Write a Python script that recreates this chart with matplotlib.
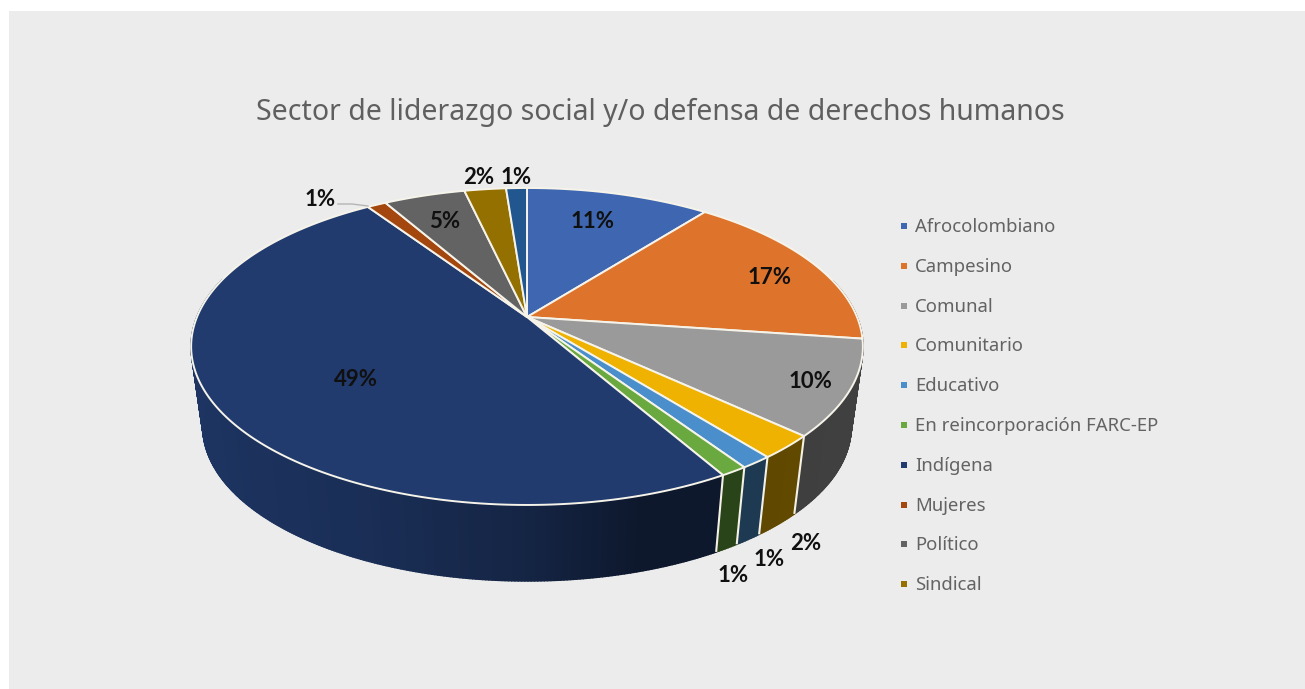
import numpy as np
import matplotlib
matplotlib.use('Agg')
import matplotlib.pyplot as plt
from matplotlib.collections import PolyCollection
from matplotlib.colors import to_rgb

categories = ['Afrocolombiano', 'Campesino', 'Comunal', 'Comunitario', 'Educativo',
              'En reincorporación FARC-EP', 'Indígena', 'Mujeres', 'Político', 'Sindical']
# the last slice has no legend entry
values = [10.6, 16.6, 9.7, 2.4, 1.3, 1.1, 48.9, 1.1, 4.7, 2.4, 1.2]
colors = ['#3F66B0', '#DE732B', '#9A9A9A', '#EFB200', '#4A8FCB', '#69A93F',
          '#213B6E', '#A3470F', '#636363', '#947000', '#22568F']
label_pos = [(593, 221), (770, 277), (810, 382), (806, 543), (769, 560), (733, 576),
             (356, 379), (320, 200), (445, 222), (479, 178), (516, 177)]

title = 'Sector de liderazgo social y/o defensa de derechos humanos'


def project(theta, apex_y, sx=1, sy=1):
    # perspective view of the disc, theta runs clockwise from the top
    u, v = np.sin(theta), np.cos(theta)
    d = 1 + 0.186 * v
    return 527 + sx * 330 * u / d, apex_y - sy * 153 * v / d


def wall_points(theta):
    return project(theta, 398, 0.965, 0.973)


def shade(color, theta):
    # side wall gets darker towards the right hand side
    u = np.sin(theta)
    f = np.interp(u, [-1, -0.4, 0, 0.3, 0.5, 1], [0.9, 0.78, 0.62, 0.4, 0.4, 0.42])
    return tuple(c * f for c in to_rgb(color))


fig = plt.figure(figsize=(13.05, 6.89), dpi=100, facecolor='white')
ax = fig.add_axes([0, 0, 1, 1])
ax.set_xlim(0, 1305)
ax.set_ylim(689, 0)
ax.axis('off')

ax.fill([9, 1305, 1305, 9], [11, 11, 689, 689], color='#ECECEC', lw=0)

edges = 2 * np.pi * np.cumsum([0] + values) / sum(values)

# side walls
for i, color in enumerate(colors):
    t = np.linspace(edges[i], edges[i + 1], max(int((edges[i + 1] - edges[i]) * 120), 2))
    xt, yt = project(t, 317)
    xb, yb = wall_points(t)
    polys = []
    cols = []
    for j in range(len(t) - 1):
        if np.cos(t[j]) > 0.25:
            continue
        polys.append([(xt[j], yt[j]), (xt[j + 1], yt[j + 1]), (xb[j + 1], yb[j + 1]), (xb[j], yb[j])])
        cols.append(shade(color, t[j]))
    if polys:
        ax.add_collection(PolyCollection(polys, facecolors=cols, edgecolors=cols, linewidths=1.2))

# white seams between the wall segments
for e in edges[3:7]:
    xt, yt = project(e, 317)
    xb, yb = wall_points(e)
    ax.plot([xt, xb], [yt, yb], color='#F4F1E6', lw=1.5, solid_capstyle='butt')

# top face
for i, color in enumerate(colors):
    t = np.linspace(edges[i], edges[i + 1], 200)
    x, y = project(t, 317)
    ax.fill(np.r_[527, x], np.r_[317, y], facecolor=color, edgecolor='#F6F4EA', lw=1.4, joinstyle='round')

for val, (lx, ly) in zip(values, label_pos):
    ax.text(lx, ly, f'{val:.0f}%', ha='center', va='center', fontsize=16, fontweight='bold',
            family='Lato', color='#101010')

# leader line of the small slice
ax.plot([338, 352, 368], [204, 204, 206], color='#B5B5B5', lw=1)

ax.text(660, 112, title, ha='center', va='center', fontsize=20.5, color='#5F5F5F', family='Noto Sans')

for i, name in enumerate(categories):
    y = 227 + i * 39.8
    ax.scatter([904], [y - 1], marker='s', s=20, color=colors[i], lw=0)
    ax.text(915, y, name, ha='left', va='center', fontsize=13.35, color='#636363', family='Noto Sans')

fig.savefig('out.png', dpi=100)
